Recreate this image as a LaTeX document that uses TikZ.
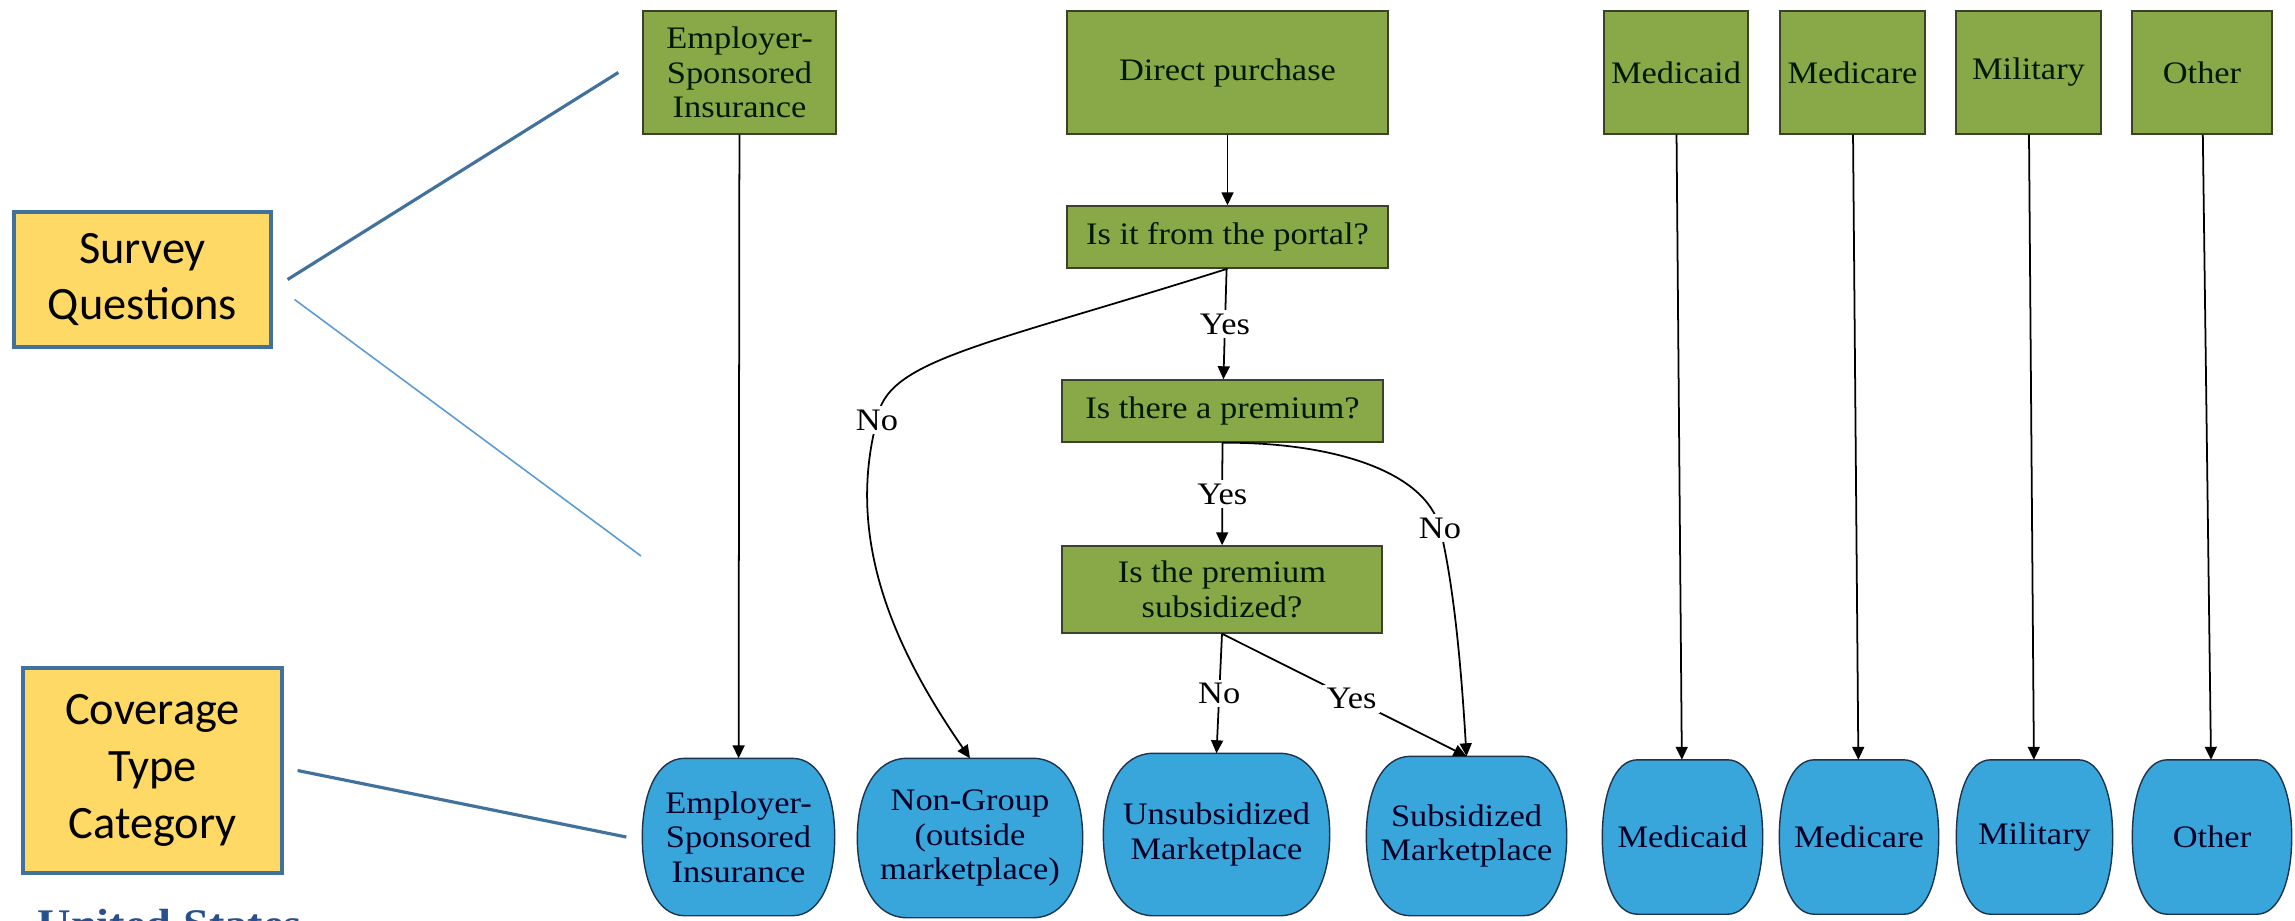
\documentclass[tikz,border=0pt]{standalone}
\usepackage{fontspec}
\setmainfont{Liberation Serif}[FakeStretch=1.1]
\newfontfamily\calibrifont{Carlito}
\usetikzlibrary{arrows.meta,calc,backgrounds}

\definecolor{boxgreen}{RGB}{137,168,72}
\definecolor{boxline}{RGB}{58,66,46}
\definecolor{catblue}{RGB}{56,166,218}
\definecolor{catline}{RGB}{30,52,78}
\definecolor{noteyellow}{RGB}{255,217,102}
\definecolor{noteblue}{RGB}{65,113,156}
\definecolor{lightline}{RGB}{91,155,213}
\definecolor{logoblue}{RGB}{40,80,140}

\begin{document}
\begin{tikzpicture}[
  font=\fontsize{8.9}{9.8}\selectfont,
  qbox/.style={draw=boxline, fill=boxgreen, line width=0.4pt, minimum height=1.23cm, inner sep=1pt, align=center, text=black!90!green},
  cat/.style={minimum height=1.56cm, inner sep=1pt, align=center, text=black!85!blue},
  catshape/.style={draw=catline, fill=catblue, line width=0.4pt},
  note/.style={draw=noteblue, fill=noteyellow, line width=0.9pt, align=center, font=\calibrifont\fontsize{13.2}{16.2}\selectfont},
  arr/.style={-{Triangle[length=3.7pt,width=3.4pt]}, line width=0.5pt},
  lbl/.style={fill=white, inner sep=1pt},
  pointer/.style={noteblue, line width=0.9pt}
]
  \useasboundingbox (0,0) rectangle (22.95,-9.2);

  % yellow notes on the left
  \node[note, minimum width=2.57cm, minimum height=1.35cm] (survey) at (1.425,-2.795) {Survey\\Questions};
  \node[note, minimum width=2.59cm, minimum height=2.05cm] (coverage) at (1.525,-7.705) {Coverage\\Type\\Category};

  % questions
  \node[qbox, minimum width=1.93cm] (emp-q) at (7.395,-0.725) {Employer-\\Sponsored\\Insurance};
  \node[qbox, minimum width=3.21cm] (dp) at (12.275,-0.725) {Direct purchase};
  \node[qbox, minimum width=3.21cm, minimum height=0.62cm] (portal) at (12.275,-2.37) {Is it from the portal?};
  \node[qbox, minimum width=3.21cm, minimum height=0.62cm] (prem) at (12.225,-4.11) {Is there a premium?};
  \node[qbox, minimum width=3.2cm, minimum height=0.87cm] (subq) at (12.22,-5.895) {Is the premium\\subsidized?};

  % coverage categories
  \node[cat, minimum width=1.91cm] (emp-c) at (7.385,-8.37) {Employer-\\Sponsored\\Insurance};
  \node[cat, minimum width=2.24cm, minimum height=1.58cm] (ng) at (9.70,-8.38) {Non-Group\\(outside\\marketplace)};
  \node[cat, minimum width=2.25cm, minimum height=1.61cm] (unsub) at (12.165,-8.345) {Unsubsidized\\Marketplace};
  \node[cat, minimum width=1.99cm, minimum height=1.58cm] (sub) at (14.665,-8.36) {Subsidized\\Marketplace};

  \foreach \nm/\txt/\xq/\wq/\xc/\wc in {mcaid/Medicaid/16.76/1.44cm/16.825/1.59cm,
      mcare/Medicare/18.525/1.45cm/18.59/1.58cm, mil/Military/20.285/1.45cm/20.345/1.55cm,
      oth/Other/22.02/1.40cm/22.12/1.58cm}{
    \node[qbox, minimum width=\wq] (\nm-q) at (\xq,-0.725) {\txt};
    \node[cat, minimum width=\wc, minimum height=1.53cm] (\nm-c) at (\xc,-8.37) {\txt};
    \draw[arr] (\nm-q) -- (\nm-c);
  }

  % barrel outlines behind the category texts
  \begin{scope}[on background layer]
    \foreach \nd in {emp-c,ng,unsub,sub,mcaid-c,mcare-c,mil-c,oth-c}
      \draw[catshape] let \p1=(\nd.north west), \p2=(\nd.south east),
          \n1={0.22*(\x2-\x1)}, \n2={0.5*(\y1+\y2)}, \n3={0.22*(\y1-\y2)} in
        (\x1+\n1,\y1) -- (\x2-\n1,\y1)
        .. controls (\x2-0.35*\n1,\y1) and (\x2,\y1-\n3) .. (\x2,\n2)
        .. controls (\x2,\y2+\n3) and (\x2-0.35*\n1,\y2) .. (\x2-\n1,\y2)
        -- (\x1+\n1,\y2)
        .. controls (\x1+0.35*\n1,\y2) and (\x1,\y2+\n3) .. (\x1,\n2)
        .. controls (\x1,\y1-\n3) and (\x1+0.35*\n1,\y1) .. (\x1+\n1,\y1) -- cycle;
  \end{scope}

  % flow
  \draw[arr] (emp-q) -- (emp-c);
  \draw[arr] (dp) -- (portal);
  \draw[arr] (portal) -- node[lbl]{Yes} (prem);
  \draw[arr] (portal.south) .. controls (9.80,-3.47) and (8.85,-3.60) .. (8.77,-4.20) node[lbl]{No}
    .. controls (8.45,-5.40) and (8.95,-6.50) .. (ng.north);
  \draw[arr] (prem) -- node[lbl]{Yes} (subq);
  \draw[arr] (prem.south) .. controls (13.30,-4.42) and (14.25,-4.70) .. (14.40,-5.28) node[lbl]{No}
    .. controls (14.55,-5.90) and (14.62,-6.80) .. (sub.north);
  \draw[arr] (subq.south) -- node[lbl]{No} (unsub.north);
  \draw[arr] (subq.south) -- node[lbl, pos=0.53]{Yes} (sub.north);

  % pointers from the notes
  \coordinate (qend) at (6.41,-5.56);
  \draw[pointer] ([xshift=0.15cm]survey.east) -- ([xshift=-0.24cm]emp-q.west);
  \draw[pointer, lightline, line width=0.45pt] ([shift={(0.22,-0.2)}]survey.east) -- (qend);
  \draw[pointer] ([xshift=0.14cm]coverage.east) -- ([xshift=-0.16cm]emp-c.west);

  \begin{scope}
    \clip (0,0) rectangle (22.95,-9.2);
    \node[anchor=base west, inner sep=0, text=logoblue, font=\fontsize{12}{12}\selectfont\bfseries] (logo) at (0.37,-9.38) {United States};
  \end{scope}
\end{tikzpicture}
\end{document}
